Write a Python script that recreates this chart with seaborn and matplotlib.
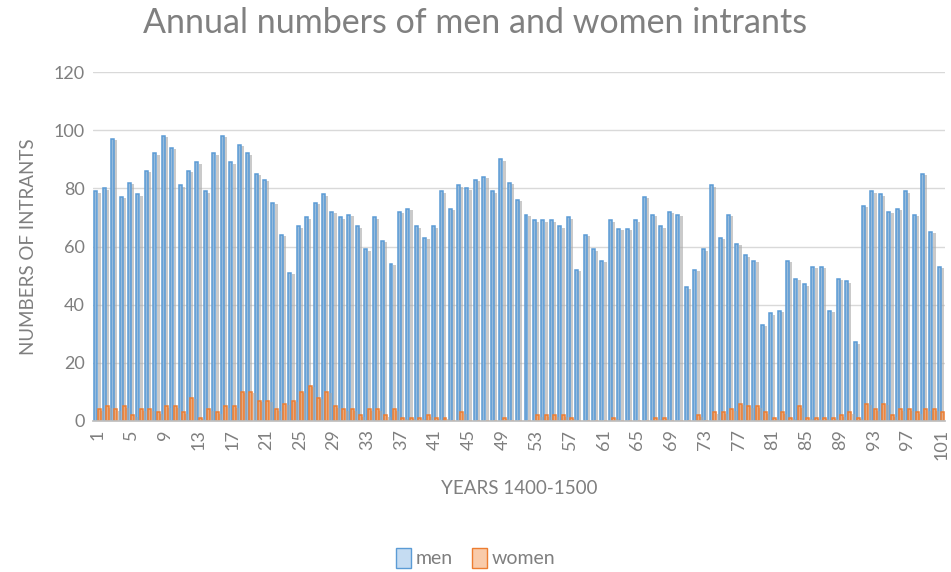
# Annual numbers of men and women intrants, 1400-1500
import matplotlib
matplotlib.use("Agg")
import matplotlib.pyplot as plt
import matplotlib.patheffects as pe
from matplotlib.patches import Patch
import seaborn as sns
import pandas as pd

# Data (year index 1..101)
years = list(range(1, 102))
men = [79, 80, 97, 77, 82, 78, 86, 92, 98, 94,
       81, 86, 89, 79, 92, 98, 89, 95, 92, 85,
       83, 75, 64, 51, 67, 70, 75, 78, 72, 70,
       71, 67, 59, 70, 62, 54, 72, 73, 67, 63,
       67, 79, 73, 81, 80, 83, 84, 79, 90, 82,
       76, 71, 69, 69, 69, 67, 70, 52, 64, 59,
       55, 69, 66, 66, 69, 77, 71, 67, 72, 71,
       46, 52, 59, 81, 63, 71, 61, 57, 55, 33,
       37, 38, 55, 49, 47, 53, 53, 38, 49, 48,
       27, 74, 79, 78, 72, 73, 79, 71, 85, 65,
       53]
women = [4, 5, 4, 5, 2, 4, 4, 3, 5, 5,
         3, 8, 1, 4, 3, 5, 5, 10, 10, 7,
         7, 4, 6, 7, 10, 12, 8, 10, 5, 4,
         4, 2, 4, 4, 2, 4, 1, 1, 1, 2,
         1, 1, 0, 3, 0, 0, 0, 0, 1, 0,
         0, 0, 2, 2, 2, 2, 1, 0, 0, 0,
         0, 1, 0, 0, 0, 0, 1, 1, 0, 0,
         0, 2, 0, 3, 3, 4, 6, 5, 5, 3,
         1, 3, 1, 5, 1, 1, 1, 1, 2, 3,
         1, 6, 4, 6, 2, 4, 4, 3, 4, 4,
         3]
series = ["men", "women"]

df = pd.DataFrame({
    "year": years * 2,
    "count": men + women,
    "sex": ["men"] * len(men) + ["women"] * len(women),
})

face = {"men": "#8DBBE6", "women": "#F4A772"}
legend_face = {"men": "#C5DCF2", "women": "#F9CBAA"}
edge = {"men": "#5B9BD5", "women": "#ED7D31"}
grey = "#7F7F7F"

sns.set_theme(style="white")
plt.rcParams['font.family'] = ['Lato', 'DejaVu Sans']

fig = plt.figure(figsize=(9.51, 5.72), dpi=100)
ax = fig.add_axes([0.098, 0.264, 0.896, 0.61])

sns.barplot(data=df, x="year", y="count", hue="sex", hue_order=series,
            palette=face, errorbar=None, width=0.8, gap=0.12,
            linewidth=1.1, legend=False, ax=ax)

# Excel-like outlines and soft shadow
for name, cont in zip(series, ax.containers):
    for bar in cont:
        bar.set_edgecolor(edge[name])
        bar.set_path_effects([pe.SimplePatchShadow(offset=(2.4, -1.0), shadow_rgbFace="#a8a8a8", alpha=0.6),
                              pe.Normal()])

# Axes styling
ax.set_ylim(0, 120)
ax.set_yticks(range(0, 121, 20))
ax.set_xlim(-0.5, len(years) - 0.5)
ax.set_xticks(range(0, len(years), 4))
ax.set_xticklabels([str(y) for y in years[::4]], rotation=90)
ax.yaxis.grid(True, color="#D9D9D9", linewidth=1)
ax.set_axisbelow(True)
for side in ["top", "right", "left"]:
    ax.spines[side].set_visible(False)
ax.spines["bottom"].set_color("#BFBFBF")
ax.tick_params(axis="both", length=0, labelsize=13, colors=grey, pad=6)

ax.set_xlabel("YEARS 1400-1500", fontsize=13.5, color=grey, labelpad=14)
ax.set_ylabel("NUMBERS OF INTRANTS", fontsize=13.5, color=grey, labelpad=12)
fig.text(0.5, 0.96, "Annual numbers of men and women intrants", ha="center", va="center",
         fontsize=24.5, color="#808080")

# Legend at the bottom
handles = [Patch(facecolor=legend_face[s], edgecolor=edge[s], label=s) for s in series]
fig.legend(handles=handles, loc="center", bbox_to_anchor=(0.5, 0.025), ncol=2, frameon=False,
           fontsize=14, labelcolor=grey, handlelength=0.75, handleheight=1.2,
           handletextpad=0.25, columnspacing=1.0)

fig.savefig("out.png", dpi=100)
